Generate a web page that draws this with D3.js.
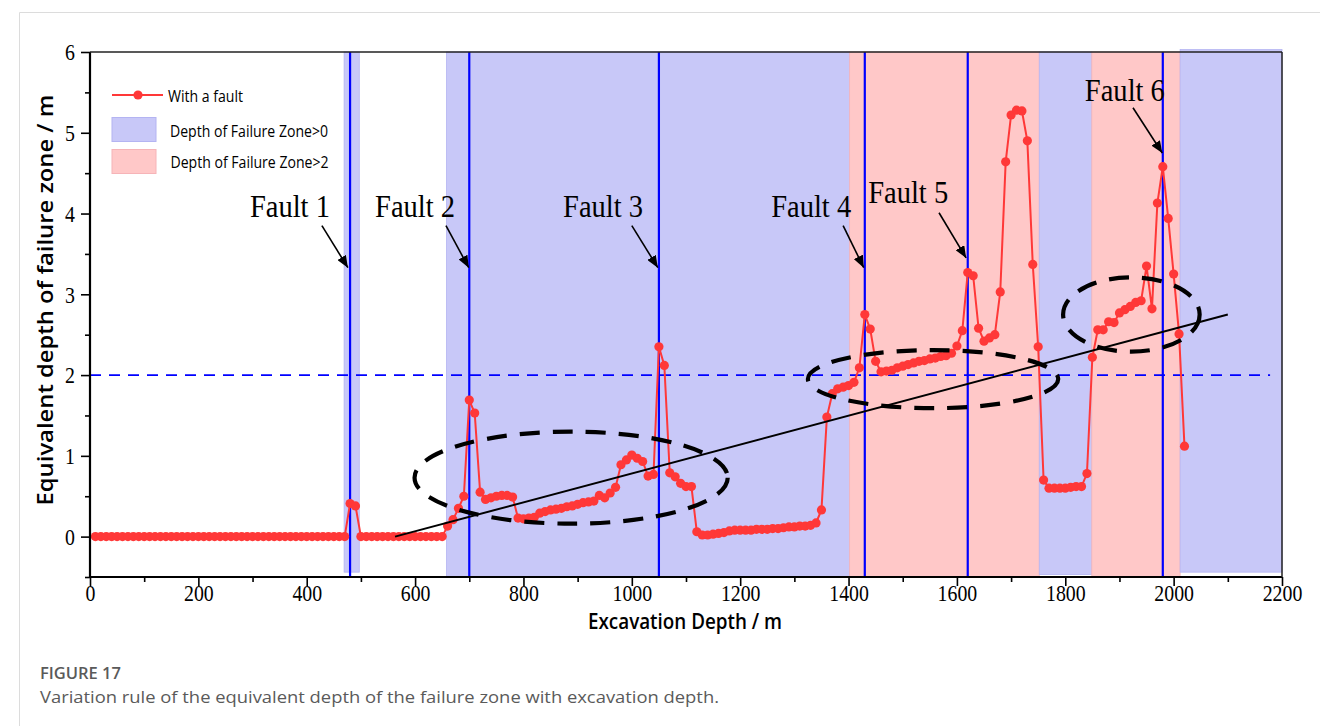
<!DOCTYPE html>
<html><head><meta charset="utf-8">
<script src="https://cdn.jsdelivr.net/npm/d3@7"></script>
<style>html,body{margin:0;padding:0;background:#fff;} svg{display:block;}</style>
</head><body>
<svg id="chart" width="1320" height="726"></svg>
<script>
// ---------------- DATA ----------------
const depths = [
  10,20,30,40,50,60,70,80,90,100,110,120,130,140,150,160,170,180,190,200,
  210,220,230,240,250,260,270,280,290,300,310,320,330,340,350,360,370,380,390,400,
  410,420,430,440,450,460,470,480,490,500,510,520,530,540,550,560,570,580,590,600,
  610,620,630,640,650,660,670,680,690,700,710,720,730,740,750,760,770,780,790,800,
  810,820,830,840,850,860,870,880,890,900,910,920,930,940,950,960,970,980,990,1000,
  1010,1020,1030,1040,1050,1060,1070,1080,1090,1100,1110,1120,1130,1140,1150,1160,1170,1180,1190,1200,
  1210,1220,1230,1240,1250,1260,1270,1280,1290,1300,1310,1320,1330,1340,1350,1360,1370,1380,1390,1400,
  1410,1420,1430,1440,1450,1460,1470,1480,1490,1500,1510,1520,1530,1540,1550,1560,1570,1580,1590,1600,
  1610,1620,1630,1640,1650,1660,1670,1680,1690,1700,1710,1720,1730,1740,1750,1760,1770,1780,1790,1800,
  1810,1820,1830,1840,1850,1860,1870,1880,1890,1900,1910,1920,1930,1940,1950,1960,1970,1980,1990,2000,
  2010,2020
];
const failureDepth = [
  0,0,0,0,0,0,0,0,0,0,0,0,0,0,0,0,0,0,0,0,
  0,0,0,0,0,0,0,0,0,0,0,0,0,0,0,0,0,0,0,0,
  0,0,0,0,0,0,0,0.41,0.38,0,0,0,0,0,0,0,0,0,0,0,
  0,0,0,0,0,0.13,0.21,0.35,0.50,1.69,1.53,0.55,0.46,0.48,0.50,0.51,0.51,0.49,0.23,0.22,
  0.23,0.24,0.29,0.31,0.33,0.34,0.35,0.37,0.38,0.40,0.42,0.43,0.44,0.51,0.48,0.54,0.61,0.89,0.95,1.01,
  0.97,0.93,0.75,0.77,2.35,2.12,0.79,0.74,0.66,0.62,0.62,0.06,0.02,0.02,0.03,0.04,0.05,0.07,0.08,0.08,
  0.08,0.08,0.09,0.09,0.09,0.10,0.10,0.11,0.12,0.12,0.13,0.13,0.14,0.17,0.33,1.48,1.77,1.83,1.85,1.87,
  1.91,2.09,2.75,2.57,2.17,2.04,2.05,2.06,2.09,2.11,2.13,2.15,2.17,2.18,2.20,2.21,2.23,2.24,2.27,2.36,
  2.55,3.27,3.23,2.58,2.42,2.46,2.50,3.03,4.64,5.22,5.28,5.27,4.90,3.37,2.35,0.70,0.60,0.60,0.60,0.60,
  0.61,0.62,0.62,0.78,2.22,2.56,2.56,2.66,2.65,2.77,2.81,2.85,2.90,2.92,3.35,2.82,4.13,4.58,3.94,3.25,
  2.51,1.12
];
// shaded zones (x from / to, y bottom / top, zone type)
const zoneStart = [469, 658, 1402, 1752, 1849, 2012];
const zoneEnd   = [497, 1402, 1752, 1849, 2012, 2200];
const zoneBottom = [-0.44, -0.5, -0.5, -0.47, -0.5, -0.44];
const zoneTop    = [6, 6, 6, 6, 6, 6.03];
const zoneType   = [">0", ">0", ">2", ">0", ">2", ">0"];
// faults
const faultNames = ["Fault 1","Fault 2","Fault 3","Fault 4","Fault 5","Fault 6"];
const faultDepths = [480, 700, 1050, 1430, 1620, 1980];
const faultLabelX = [369, 600, 947, 1331, 1510, 1910];
const faultLabelY = [3.96, 3.96, 3.96, 3.96, 4.13, 5.39];
const arrowFromX = [428, 657, 1000, 1390, 1567, 1925];
const arrowFromY = [3.85, 3.85, 3.85, 3.85, 4.01, 5.31];
const arrowToX   = [476, 699, 1048, 1428, 1617, 1979];
const arrowToY   = [3.33, 3.33, 3.33, 3.33, 3.45, 4.75];
// threshold, trend, highlight ellipses
const thresholdValue = 2;
const thresholdEnd = 2178;
const trendX = [563, 2100];
const trendY = [0, 2.75];
const ellipseCx = [888, 1556, 1922];
const ellipseCy = [0.73, 1.95, 2.75];
const ellipseRx = [289, 231, 126];
const ellipseRy = [0.57, 0.36, 0.46];
// ticks
const xMajorTicks = [0,200,400,600,800,1000,1200,1400,1600,1800,2000,2200];
const xMinorTicks = [100,300,500,700,900,1100,1300,1500,1700,1900,2100];
const yMajorTicks = [0,1,2,3,4,5,6];
const yMinorTicks = [-0.5,0.5,1.5,2.5,3.5,4.5,5.5];
const legendLabels = ["With a fault","Depth of Failure Zone>0","Depth of Failure Zone>2"];

// ---------------- LAYOUT ----------------
const svg = d3.select("#chart");
const L = 90, R = 1282, T = 52, B = 577;
const x = d3.scaleLinear().domain([0, 2200]).range([L, R]);
const y = d3.scaleLinear().domain([-0.5, 6]).range([B, T]);
const RED = "#ff3838", BLUE = "#0000ff";
const zoneFill = {">0": "#c8c8f8", ">2": "#ffc8c8"};
const zoneStroke = {">0": "#b4b4f2", ">2": "#f6b4b8"};
const serif = "'Liberation Serif','Times New Roman',serif";
const sans = "'Open Sans','Noto Sans',sans-serif";

// figure frame lines
svg.append("line").attr("x1",19.5).attr("x2",1320).attr("y1",12.5).attr("y2",12.5).attr("stroke","#dcdcdc");
svg.append("line").attr("x1",19.5).attr("x2",19.5).attr("y1",12.5).attr("y2",726).attr("stroke","#dcdcdc");

// zones
const zones = zoneStart.map((s,i)=>({s, e: zoneEnd[i], b: zoneBottom[i], t: zoneTop[i], type: zoneType[i]}));
svg.append("g").selectAll("rect").data(zones).join("rect")
  .attr("x", d=>x(d.s)).attr("width", d=>x(d.e)-x(d.s))
  .attr("y", d=>y(d.t)).attr("height", d=>y(d.b)-y(d.t))
  .attr("fill", d=>zoneFill[d.type]).attr("stroke", d=>zoneStroke[d.type]).attr("stroke-width",0.8);

// threshold dashed line
svg.append("line").attr("x1", x(0)).attr("x2", x(thresholdEnd))
  .attr("y1", y(thresholdValue)).attr("y2", y(thresholdValue))
  .attr("stroke", BLUE).attr("stroke-width", 1.6).attr("stroke-dasharray", "11,8");

// fault lines
svg.append("g").selectAll("line").data(faultDepths).join("line")
  .attr("x1", d=>x(d)).attr("x2", d=>x(d)).attr("y1", y(6)).attr("y2", y(-0.5))
  .attr("stroke", BLUE).attr("stroke-width", 2.2);

// series
const pts = depths.map((d,i)=>[d, failureDepth[i]]);
svg.append("path").datum(pts)
  .attr("d", d3.line().x(d=>x(d[0])).y(d=>y(d[1])))
  .attr("fill","none").attr("stroke", RED).attr("stroke-width", 2);
svg.append("g").selectAll("circle").data(pts).join("circle")
  .attr("cx", d=>x(d[0])).attr("cy", d=>y(d[1])).attr("r", 4.6).attr("fill", RED);

// trend line
svg.append("line").attr("x1", x(trendX[0])).attr("y1", y(trendY[0]))
  .attr("x2", x(trendX[1])).attr("y2", y(trendY[1]))
  .attr("stroke","#000").attr("stroke-width",2);

// ellipses
svg.append("g").selectAll("ellipse").data(ellipseCx).join("ellipse")
  .attr("cx", d=>x(d)).attr("cy", (d,i)=>y(ellipseCy[i]))
  .attr("rx", (d,i)=>x(ellipseRx[i])-x(0)).attr("ry", (d,i)=>y(0)-y(ellipseRy[i]))
  .attr("fill","none").attr("stroke","#000").attr("stroke-width",4.2).attr("stroke-dasharray","20,13");

// axes
function styleAxis(g){ g.select(".domain").remove(); g.selectAll("line").attr("stroke","#000").attr("stroke-width",1.6); g.attr("font-family", serif); }
const gx = svg.append("g").attr("transform",`translate(0,${B})`)
  .call(d3.axisBottom(x).tickValues(xMajorTicks).tickSize(9).tickFormat(d3.format("d")));
styleAxis(gx);
gx.selectAll("text").attr("y", 24).attr("dy", null)
  .style("font-family", serif).style("font-size","23px").attr("fill","#000")
  .attr("textLength", d=>String(d).length*9.9).attr("lengthAdjust","spacingAndGlyphs");
const gxm = svg.append("g").attr("transform",`translate(0,${B})`)
  .call(d3.axisBottom(x).tickValues(xMinorTicks).tickSize(5).tickFormat(""));
styleAxis(gxm);

const gy = svg.append("g").attr("transform",`translate(${L},0)`)
  .call(d3.axisLeft(y).tickValues(yMajorTicks).tickSize(9).tickFormat(d3.format("d")));
styleAxis(gy);
gy.selectAll("text").attr("x", -15).attr("dy","0.34em")
  .style("font-family", serif).style("font-size","23px").attr("fill","#000")
  .attr("textLength", d=>String(d).length*9.9).attr("lengthAdjust","spacingAndGlyphs");
const gym = svg.append("g").attr("transform",`translate(${L},0)`)
  .call(d3.axisLeft(y).tickValues(yMinorTicks).tickSize(5).tickFormat(""));
styleAxis(gym);

// frame
svg.append("line").attr("x1",L).attr("x2",L).attr("y1",T).attr("y2",B).attr("stroke","#000").attr("stroke-width",2.2);
svg.append("line").attr("x1",L).attr("x2",R).attr("y1",B).attr("y2",B).attr("stroke","#000").attr("stroke-width",2.2);
svg.append("line").attr("x1",L).attr("x2",R).attr("y1",T).attr("y2",T).attr("stroke","#222").attr("stroke-width",1.5);
svg.append("line").attr("x1",R).attr("x2",R).attr("y1",T).attr("y2",B).attr("stroke","#222").attr("stroke-width",1.5);

// fault annotations
const defs = svg.append("defs");
defs.append("marker").attr("id","arrowHead").attr("viewBox","0 0 12 10").attr("refX",12).attr("refY",5)
  .attr("markerWidth",12).attr("markerHeight",10).attr("markerUnits","userSpaceOnUse").attr("orient","auto")
  .append("path").attr("d","M0,0 L12,5 L0,10 Z").attr("fill","#000");
const ann = svg.append("g");
faultNames.forEach((n,i)=>{
  ann.append("line").attr("x1", x(arrowFromX[i])).attr("y1", y(arrowFromY[i]))
    .attr("x2", x(arrowToX[i])).attr("y2", y(arrowToY[i]))
    .attr("stroke","#000").attr("stroke-width",1.6).attr("marker-end","url(#arrowHead)");
  ann.append("text").attr("x", x(faultLabelX[i])).attr("y", y(faultLabelY[i]))
    .attr("text-anchor","middle").style("font-family", serif)
    .style("font-size","31px").attr("fill","#000")
    .attr("textLength",80).attr("lengthAdjust","spacingAndGlyphs").text(n);
});

// legend
const lg = svg.append("g");
lg.append("line").attr("x1",112).attr("x2",163).attr("y1",95).attr("y2",95).attr("stroke",RED).attr("stroke-width",2);
lg.append("circle").attr("cx",138).attr("cy",95).attr("r",4.6).attr("fill",RED);
lg.append("rect").attr("x",112).attr("y",117.5).attr("width",44).attr("height",24)
  .attr("fill",zoneFill[">0"]).attr("stroke",zoneStroke[">0"]);
lg.append("rect").attr("x",112).attr("y",149.5).attr("width",44).attr("height",24)
  .attr("fill",zoneFill[">2"]).attr("stroke",zoneStroke[">2"]);
const legY = [102, 137, 168], legW = [75, 158, 158], legX = [168, 170, 170.5];
legendLabels.forEach((t,i)=>{
  lg.append("text").attr("x",legX[i]).attr("y",legY[i]).style("font-family",sans).style("font-size","16px")
    .attr("fill","#000").attr("textLength",legW[i]).attr("lengthAdjust","spacingAndGlyphs").text(t);
});

// axis titles
svg.append("text").attr("x",(588+782)/2).attr("y",629).attr("text-anchor","middle")
  .style("font-family",sans).style("font-size","21px").style("font-weight",600).attr("fill","#000")
  .attr("textLength",194).attr("lengthAdjust","spacingAndGlyphs").text("Excavation Depth / m");
svg.append("text").attr("transform","translate(53,300) rotate(-90)").attr("text-anchor","middle")
  .style("font-family",sans).style("font-size","21px").style("font-weight",600).attr("fill","#000")
  .attr("textLength",411).attr("lengthAdjust","spacingAndGlyphs").text("Equivalent depth of failure zone / m");

// caption
svg.append("text").attr("x",40).attr("y",679).style("font-family",sans).style("font-size","16px").style("font-weight",600)
  .attr("fill","#5a5a5a").attr("textLength",81).attr("lengthAdjust","spacingAndGlyphs").text("FIGURE 17");
svg.append("text").attr("x",40).attr("y",703).style("font-family",sans).style("font-size","16px")
  .attr("fill","#5a5a5a").attr("textLength",679).attr("lengthAdjust","spacingAndGlyphs")
  .text("Variation rule of the equivalent depth of the failure zone with excavation depth.");
</script>
</body></html>
